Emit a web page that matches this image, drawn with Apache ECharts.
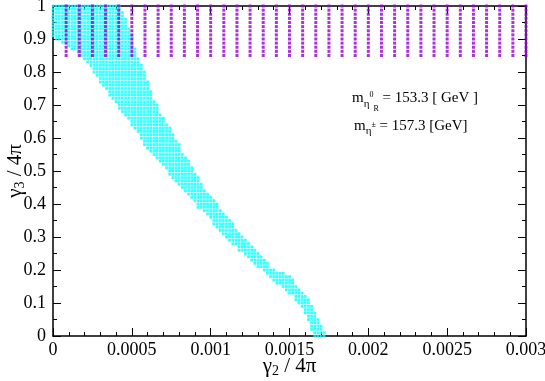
<!DOCTYPE html>
<html>
<head>
<meta charset="utf-8">
<script src="https://cdn.jsdelivr.net/npm/echarts@6/dist/echarts.min.js"></script>
<style>
    html, body { margin: 0; padding: 0; background: #fff; }
    #chart { width: 545px; height: 381px; }
</style>
</head>
<body>
<div id="chart"></div>
<script>
const xTickLabels = ['0', '0.0005', '0.001', '0.0015', '0.002', '0.0025', '0.003'];
const yTickLabels = ['0', '0.1', '0.2', '0.3', '0.4', '0.5', '0.6', '0.7', '0.8', '0.9', '1'];

// cyan scan: lattice step in gamma2/4pi and gamma3/4pi
const cyanStepX = 0.00002;
const cyanStepY = 0.01;
// allowed band per gamma3 row (row 0 = 0, row 100 = 1), as lattice column indices
const cyanLoCol = [
    83, 83, 82, 82, 82, 81, 81, 80, 80, 79,
    78, 77, 77, 75, 74, 73, 71, 70, 69, 68,
    67, 65, 64, 63, 62, 61, 59, 59, 57, 56,
    55, 54, 53, 52, 51, 51, 50, 49, 48, 46,
    46, 45, 44, 43, 42, 41, 40, 39, 38, 37,
    37, 36, 35, 34, 33, 32, 31, 30, 29, 29,
    28, 28, 27, 26, 25, 25, 24, 23, 22, 21,
    21, 20, 19, 18, 18, 17, 16, 15, 15, 14,
    13, 13, 12, 11, 10, 9, 8, 6, 5, 3,
    1, 0, 0, 0, 0, 0, 0, 0, 0, 0,
    0
];
const cyanHiCol = [
    86, 86, 85, 85, 84, 84, 83, 83, 82, 82,
    81, 81, 80, 79, 78, 77, 76, 76, 75, 73,
    70, 68, 68, 67, 66, 65, 64, 63, 62, 61,
    60, 59, 58, 57, 57, 56, 55, 54, 53, 52,
    52, 51, 50, 49, 48, 47, 47, 46, 46, 45,
    44, 44, 43, 43, 42, 41, 40, 40, 40, 39,
    38, 38, 37, 37, 36, 35, 35, 34, 33, 33,
    33, 32, 31, 31, 31, 30, 30, 30, 29, 29,
    29, 28, 28, 27, 27, 26, 26, 26, 25, 25,
    25, 25, 24, 24, 23, 23, 23, 22, 22, 21,
    21
];

// violet scan points
const violetX = [
    0.0000833, 0.0001667, 0.00025, 0.0003333, 0.0004167, 0.0005,
    0.0005833, 0.0006667, 0.00075, 0.0008333, 0.0009167, 0.001,
    0.0010833, 0.0011667, 0.00125, 0.0013333, 0.0014167, 0.0015,
    0.0015833, 0.0016667, 0.00175, 0.0018333, 0.0019167, 0.002,
    0.0020833, 0.0021667, 0.00225, 0.0023333, 0.0024167, 0.0025,
    0.0025833, 0.0026667, 0.00275, 0.0028333, 0.0029167, 0.003
];
const violetY = [0.85, 0.8625, 0.875, 0.8875, 0.9, 0.9125, 0.925, 0.9375, 0.95, 0.9625, 0.975, 0.9875, 1.0];

const cyanData = [];
cyanLoCol.forEach((lo, row) => {
    for (let c = lo; c <= cyanHiCol[row]; c++) {
        cyanData.push([c * cyanStepX, row * cyanStepY]);
    }
});

const violetData = [];
violetX.forEach(x => {
    violetY.forEach(y => violetData.push([x, y]));
});

const serif = 'Liberation Serif';
const lineStyle = { color: '#000', width: 1.5 };

function frameAxis(position, showLabels, extra) {
    return Object.assign({
        type: 'value',
        position: position,
        axisLine: { show: true, onZero: false, lineStyle: lineStyle },
        axisTick: { show: true, inside: true, length: 8, lineStyle: { color: '#000', width: 1 } },
        minorTick: { show: true, length: 4, lineStyle: { color: '#000', width: 1 } },
        splitLine: { show: false },
        axisLabel: { show: showLabels, fontFamily: serif, fontSize: 18, color: '#000' }
    }, extra);
}

const xCommon = { min: 0, max: 0.003, interval: 0.0005 };
const yCommon = { min: 0, max: 1, interval: 0.1 };

const option = {
    animation: false,
    backgroundColor: '#fff',
    grid: { left: 53, right: 19, top: 6, bottom: 45, containLabel: false, outerBoundsMode: 'none' },
    xAxis: [
        frameAxis('bottom', true, Object.assign({}, xCommon, {
            minorTick: { show: true, splitNumber: 5, length: 4, lineStyle: { color: '#000', width: 1 } },
            axisLabel: {
                fontFamily: serif, fontSize: 18, color: '#000', margin: 5,
                formatter: v => xTickLabels[Math.round(v / 0.0005)]
            },
            name: '{g|γ}{s|2}{g| / 4π}',
            nameLocation: 'middle',
            nameGap: 18,
            nameMoveOverlap: false,
            nameTextStyle: {
                rich: {
                    g: { fontFamily: serif, fontSize: 21, color: '#000' },
                    s: { fontFamily: serif, fontSize: 14, color: '#000', padding: [10, 0, 0, 0] }
                }
            }
        })),
        frameAxis('top', false, Object.assign({}, xCommon, {
            minorTick: { show: true, splitNumber: 5, length: 4, lineStyle: { color: '#000', width: 1 } }
        }))
    ],
    yAxis: [
        frameAxis('left', true, Object.assign({}, yCommon, {
            minorTick: { show: true, splitNumber: 2, length: 4, lineStyle: { color: '#000', width: 1 } },
            axisLabel: {
                fontFamily: serif, fontSize: 18, color: '#000', margin: 7,
                formatter: v => yTickLabels[Math.round(v * 10)]
            },
            name: '{g|γ}{s|3}{g| / 4π}',
            nameLocation: 'middle',
            nameGap: 26,
            nameMoveOverlap: false,
            nameTextStyle: {
                rich: {
                    g: { fontFamily: serif, fontSize: 21, color: '#000' },
                    s: { fontFamily: serif, fontSize: 14, color: '#000', padding: [10, 0, 0, 0] }
                }
            }
        })),
        frameAxis('right', false, Object.assign({}, yCommon, {
            minorTick: { show: true, splitNumber: 2, length: 4, lineStyle: { color: '#000', width: 1 } }
        }))
    ],
    graphic: [
        {
            type: 'text',
            x: 352, y: 98,
            style: {
                text: '{m|m}{e|η}{p|0}{r|R}{t| = 153.3 [ GeV ]}',
                verticalAlign: 'middle',
                rich: {
                    m: { fontFamily: serif, fontSize: 15, fill: '#000' },
                    e: { fontFamily: serif, fontSize: 11, fill: '#000', padding: [12, 0, 0, 0] },
                    p: { fontFamily: serif, fontSize: 8, fill: '#000', padding: [0, 0, 6, 0] },
                    r: { fontFamily: serif, fontSize: 8, fill: '#000', padding: [22, 0, 0, 0] },
                    t: { fontFamily: serif, fontSize: 15, fill: '#000' }
                }
            }
        },
        {
            type: 'text',
            x: 354, y: 126,
            style: {
                text: '{m|m}{e|η}{p|±}{t| = 157.3 [GeV]}',
                verticalAlign: 'middle',
                rich: {
                    m: { fontFamily: serif, fontSize: 15, fill: '#000' },
                    e: { fontFamily: serif, fontSize: 11, fill: '#000', padding: [10, 0, 0, 0] },
                    p: { fontFamily: serif, fontSize: 8, fill: '#000', padding: [0, 0, 2, 0] },
                    t: { fontFamily: serif, fontSize: 15, fill: '#000' }
                }
            }
        }
    ],
    series: [
        {
            type: 'scatter',
            xAxisIndex: 0,
            yAxisIndex: 0,
            data: cyanData,
            symbol: 'rect',
            symbolSize: 2.7,
            itemStyle: { color: '#00ffff' },
            silent: true,
            clip: false
        },
        {
            type: 'scatter',
            xAxisIndex: 0,
            yAxisIndex: 0,
            data: violetData,
            symbol: 'rect',
            symbolSize: 3,
            itemStyle: { color: '#9400d3' },
            silent: true,
            clip: false
        }
    ]
};

const chart = echarts.init(document.getElementById('chart'));
chart.setOption(option);
</script>
</body>
</html>
